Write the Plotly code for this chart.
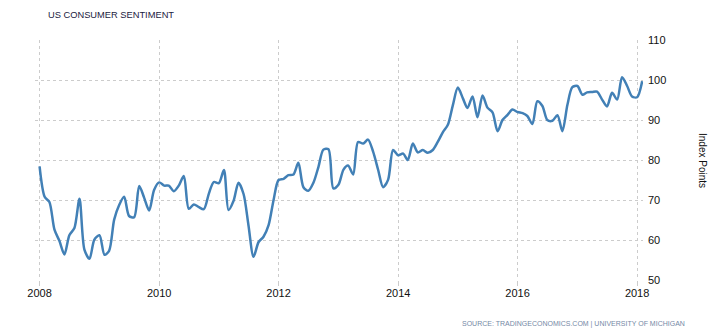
import plotly.graph_objects as go
import pandas as pd

# Monthly US consumer sentiment, Jan 2008 - Feb 2018
start_month = "2008-01-01"
values = [
    # 2008
    78.4, 70.8, 69.5, 62.6, 59.8, 56.4, 61.2, 63.0, 70.3, 57.6, 55.3, 60.1,
    # 2009
    61.2, 56.3, 57.3, 65.1, 68.7, 70.8, 66.0, 65.7, 73.5, 70.6, 67.4, 72.5,
    # 2010
    74.4, 73.6, 73.6, 72.2, 73.6, 76.0, 67.8, 68.9, 68.2, 67.7, 71.6, 74.5,
    # 2011
    74.2, 77.5, 67.5, 69.8, 74.3, 71.5, 63.7, 55.8, 59.5, 60.8, 63.7, 69.9,
    # 2012
    75.0, 75.3, 76.2, 76.4, 79.3, 73.2, 72.3, 74.3, 78.3, 82.6, 82.7, 72.9,
    # 2013
    73.8, 77.6, 78.6, 76.4, 84.5, 84.1, 85.1, 82.1, 77.5, 73.2, 75.1, 82.5,
    # 2014
    81.2, 81.6, 80.0, 84.1, 81.9, 82.5, 81.8, 82.5, 84.6, 86.9, 88.8, 93.6,
    # 2015
    98.1, 95.4, 93.0, 95.9, 90.7, 96.1, 93.1, 91.9, 87.2, 90.0, 91.3, 92.6,
    # 2016
    92.0, 91.7, 91.0, 89.0, 94.7, 93.5, 90.0, 89.8, 91.2, 87.2, 93.8, 98.2,
    # 2017
    98.5, 96.3, 96.9, 97.0, 97.1, 95.1, 93.4, 96.8, 95.1, 100.7, 98.5, 95.9,
    # 2018
    95.7, 99.7,
]
dates = pd.date_range(start_month, periods=len(values), freq="MS")

x_ticks = ["2008-01-01", "2010-01-01", "2012-01-01", "2014-01-01", "2016-01-01", "2018-01-01"]
x_tick_labels = ["2008", "2010", "2012", "2014", "2016", "2018"]
y_ticks = [50, 60, 70, 80, 90, 100, 110]

title_text = "US CONSUMER SENTIMENT"
y_title = "Index Points"
source_text = "SOURCE: TRADINGECONOMICS.COM | UNIVERSITY OF MICHIGAN"

fig = go.Figure()
fig.add_trace(go.Scatter(
    x=dates, y=values, mode="lines",
    line=dict(color="#4280b6", width=2.5, shape="spline", smoothing=0.8),
    hoverinfo="x+y",
))

font_family = "Liberation Sans, Arial, sans-serif"

fig.update_layout(
    width=716, height=334,
    margin=dict(l=35, r=73, t=40, b=54),
    paper_bgcolor="white", plot_bgcolor="white",
    showlegend=False,
    font=dict(family=font_family, size=11, color="#111111"),
    xaxis=dict(
        range=["2007-12-04", "2018-02-06"],
        tickvals=x_ticks, ticktext=x_tick_labels,
        showgrid=True, gridcolor="#cccccc", griddash="dot", gridwidth=1,
        ticks="outside", ticklen=5, tickcolor="#cccccc", tickwidth=1,
        ticklabelstandoff=-2,
        showline=False, zeroline=False,
        tickfont=dict(size=11, color="#111111"),
    ),
    yaxis=dict(
        range=[50, 110], side="right",
        tickvals=y_ticks,
        showgrid=True, gridcolor="#cccccc", griddash="dot", gridwidth=1,
        ticks="", ticklabelstandoff=4,
        showline=False, zeroline=False,
        tickfont=dict(size=11, color="#111111"),
    ),
    annotations=[
        dict(text=title_text, x=46, y=334 - 15, xref="paper", yref="paper",
             showarrow=False, xanchor="left", yanchor="middle",
             font=dict(size=9.3, color="#1a1a40", family=font_family)),
        dict(text=y_title, x=703, y=334 - 160, xref="paper", yref="paper",
             showarrow=False, textangle=90, xanchor="center", yanchor="middle",
             font=dict(size=10, color="#111111", family=font_family)),
        dict(text=source_text, x=687, y=334 - 324, xref="paper", yref="paper",
             showarrow=False, xanchor="right", yanchor="middle",
             font=dict(size=7, color="#7589a6", family=font_family)),
    ],
)

# convert pixel-based annotation positions to paper coordinates
pw = 716 - 35 - 73
ph = 334 - 40 - 54
for a in fig.layout.annotations:
    a.x = (a.x - 35) / pw
    a.y = (a.y - 54) / ph

fig.write_html("out.html")
